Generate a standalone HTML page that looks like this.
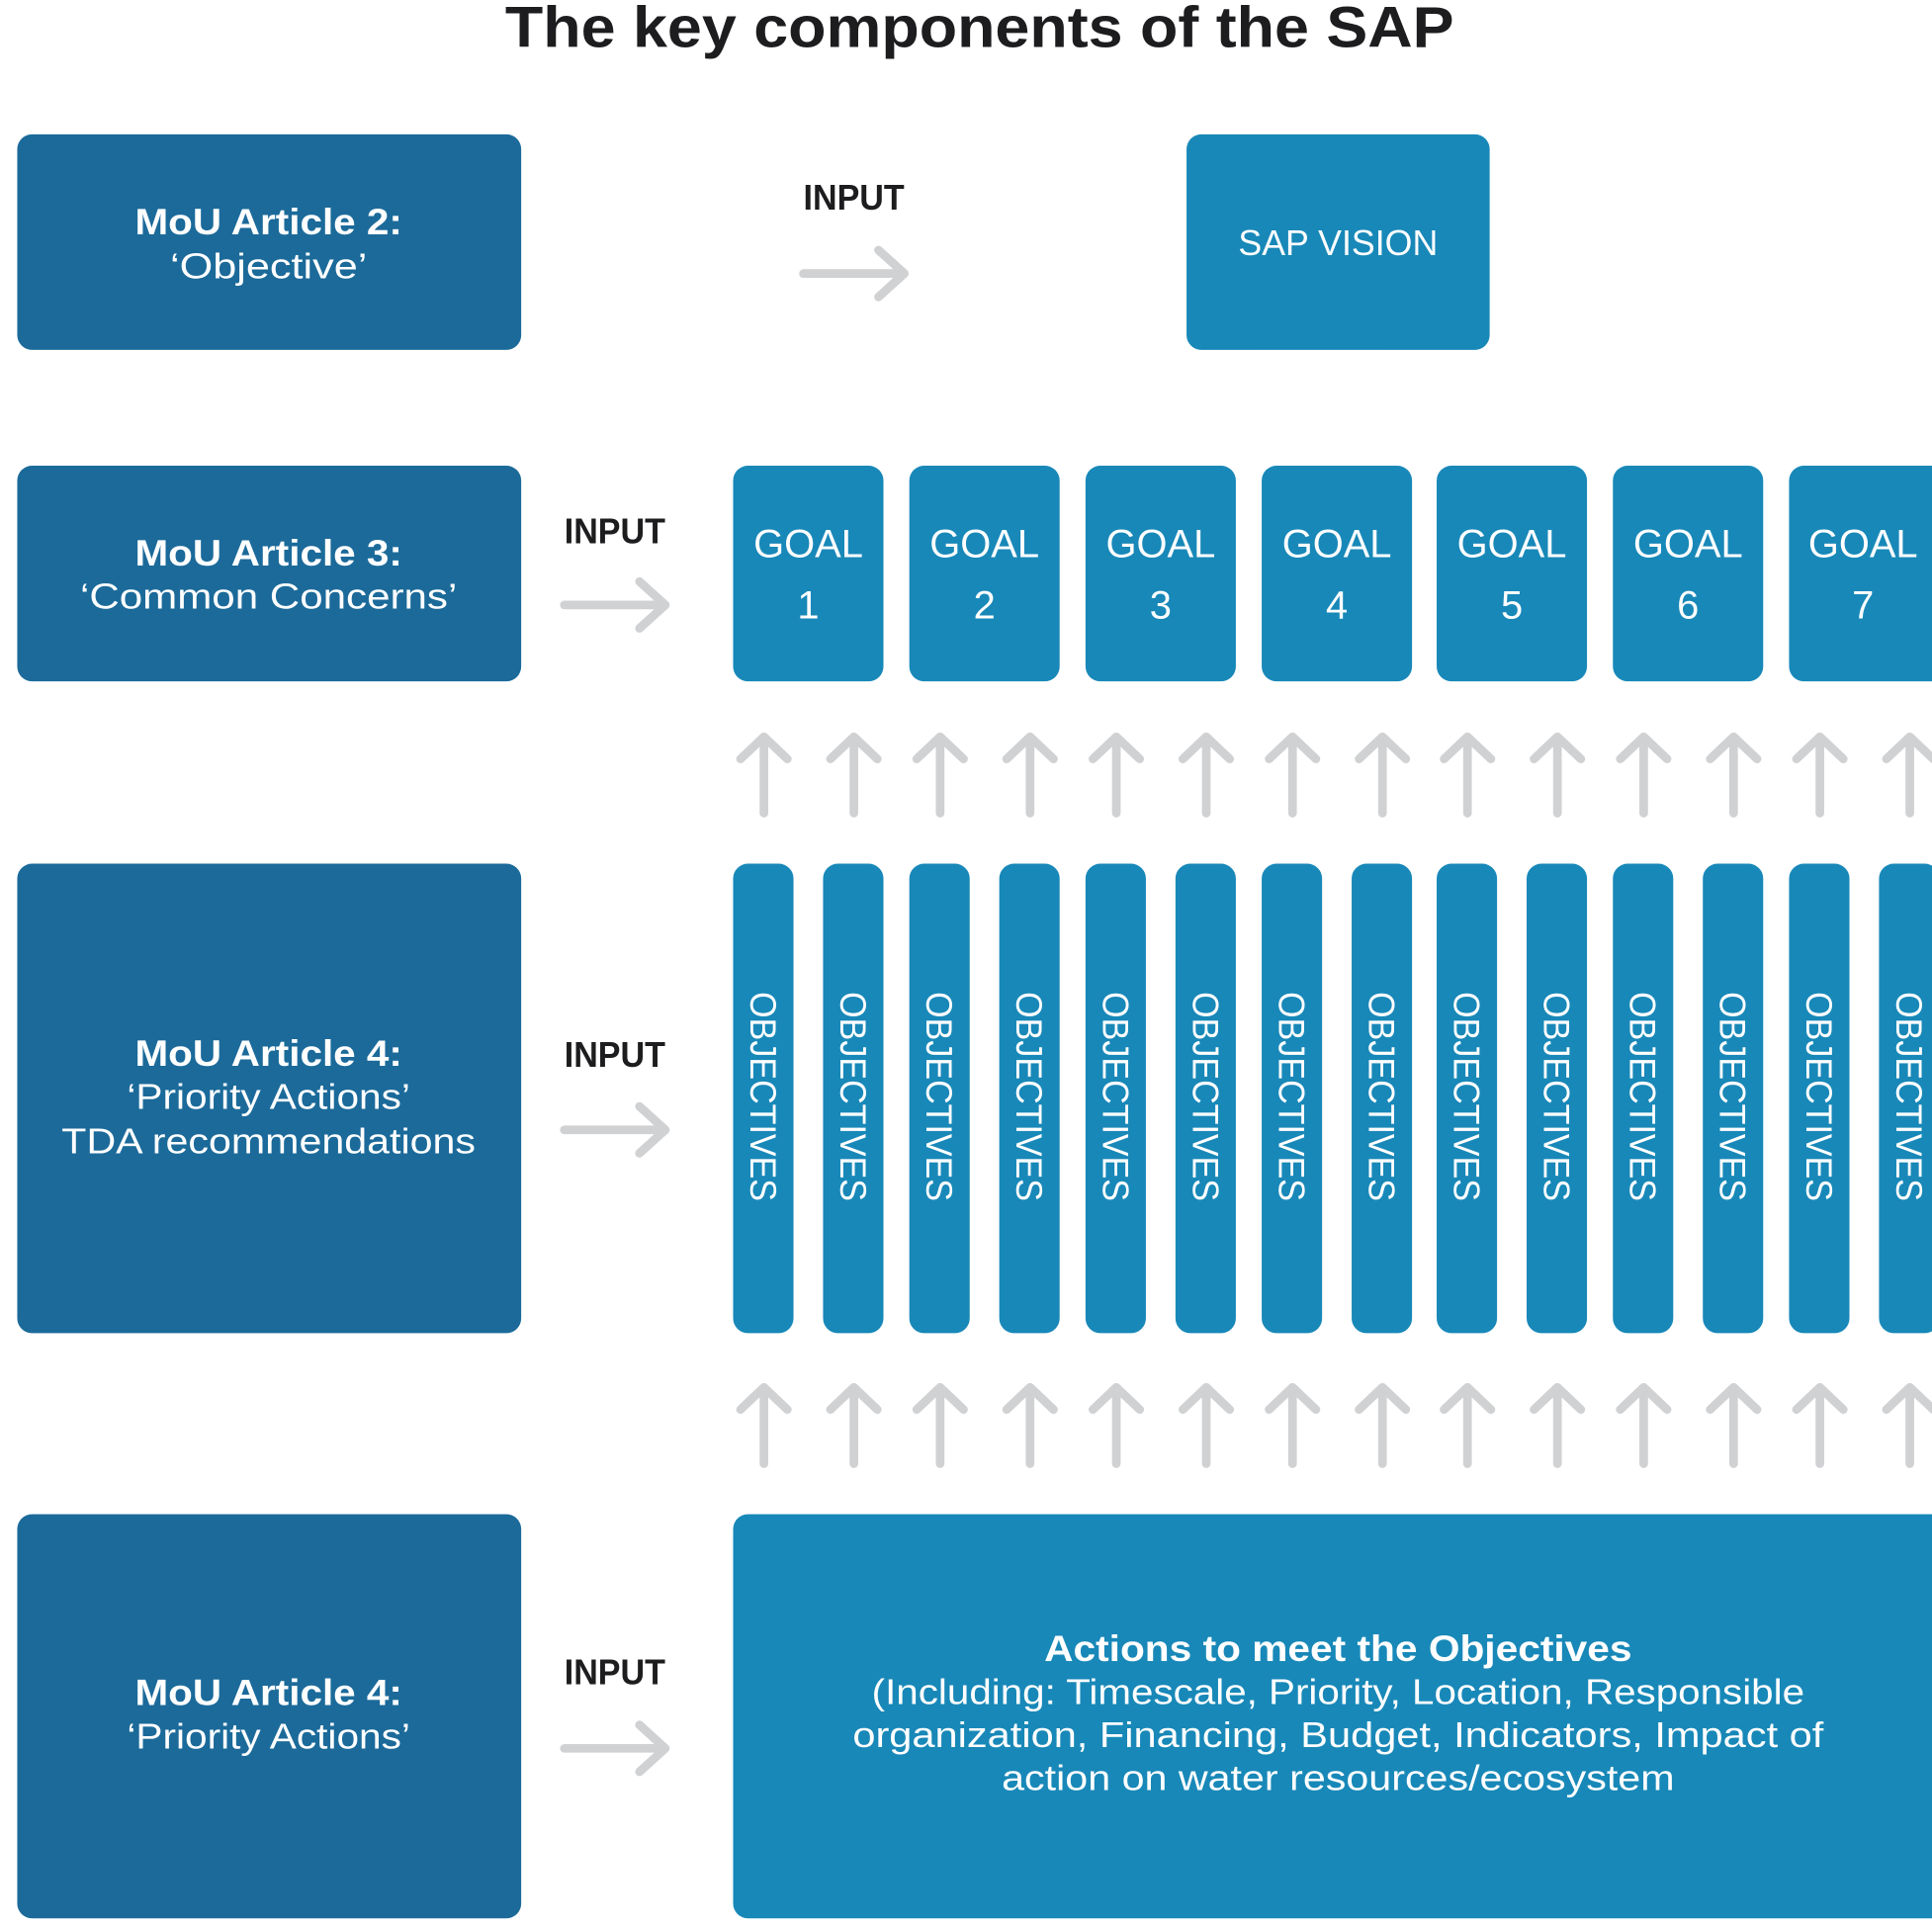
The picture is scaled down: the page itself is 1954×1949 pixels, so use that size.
<!DOCTYPE html>
<html><head><meta charset="utf-8"><style>
html,body{margin:0;padding:0;background:#fff;width:1954px;height:1949px;overflow:hidden}
svg{display:block}
text{font-family:"Liberation Sans",sans-serif}
.w{fill:#fff;font-size:29px;text-anchor:middle}
.wb{fill:#fff;font-size:30px;font-weight:bold;text-anchor:middle}
.in{fill:#1d1d1f;font-size:29px;font-weight:bold;text-anchor:middle}
.g{fill:#fff;font-size:32px;text-anchor:middle}
.ob{fill:#fff;font-size:30px;text-anchor:middle}
.ar{stroke:#d0d1d3;stroke-width:7;fill:none;stroke-linecap:round;stroke-linejoin:round}
.d{fill:#1b6a9a}.l{fill:#1888b8}
</style></head><body>
<svg width="1954" height="1949" viewBox="0 0 1568 1564" preserveAspectRatio="none">
<text x="795" y="38" text-anchor="middle" font-size="47" font-weight="bold" fill="#1d1d1f" textLength="770" lengthAdjust="spacingAndGlyphs">The key components of the SAP</text>

<rect class="d" x="14" y="109" width="409" height="175" rx="12"/>
<text class="wb" x="218" y="190" textLength="217" lengthAdjust="spacingAndGlyphs">MoU Article 2:</text>
<text class="w" x="218" y="226" textLength="160" lengthAdjust="spacingAndGlyphs">‘Objective’</text>
<rect class="d" x="14" y="378" width="409" height="175" rx="12"/>
<text class="wb" x="218" y="459" textLength="217" lengthAdjust="spacingAndGlyphs">MoU Article 3:</text>
<text class="w" x="218" y="494" textLength="306" lengthAdjust="spacingAndGlyphs">‘Common Concerns’</text>
<rect class="d" x="14" y="701" width="409" height="381" rx="12"/>
<text class="wb" x="218" y="865" textLength="217" lengthAdjust="spacingAndGlyphs">MoU Article 4:</text>
<text class="w" x="218" y="900" textLength="230" lengthAdjust="spacingAndGlyphs">‘Priority Actions’</text>
<text class="w" x="218" y="936" textLength="336" lengthAdjust="spacingAndGlyphs">TDA recommendations</text>
<rect class="d" x="14" y="1229" width="409" height="328" rx="12"/>
<text class="wb" x="218" y="1384" textLength="217" lengthAdjust="spacingAndGlyphs">MoU Article 4:</text>
<text class="w" x="218" y="1419" textLength="230" lengthAdjust="spacingAndGlyphs">‘Priority Actions’</text>

<text class="in" x="693" y="170" textLength="82" lengthAdjust="spacingAndGlyphs">INPUT</text>
<path class="ar" d="M652 222H734M713 203L734 222L713 241"/>
<text class="in" x="499" y="441" textLength="82" lengthAdjust="spacingAndGlyphs">INPUT</text>
<path class="ar" d="M458 491H540M519 472L540 491L519 510"/>
<text class="in" x="499" y="866" textLength="82" lengthAdjust="spacingAndGlyphs">INPUT</text>
<path class="ar" d="M458 917H540M519 898L540 917L519 936"/>
<text class="in" x="499" y="1367" textLength="82" lengthAdjust="spacingAndGlyphs">INPUT</text>
<path class="ar" d="M458 1419H540M519 1400L540 1419L519 1438"/>

<rect class="l" x="963" y="109" width="246" height="175" rx="12"/>
<text class="w" x="1086" y="207" textLength="162" lengthAdjust="spacingAndGlyphs">SAP VISION</text>

<g>
<rect class="l" x="595" y="378" width="122" height="175" rx="12"/><text class="g" x="656" y="452">GOAL</text><text class="g" x="656" y="502">1</text>
<rect class="l" x="738" y="378" width="122" height="175" rx="12"/><text class="g" x="799" y="452">GOAL</text><text class="g" x="799" y="502">2</text>
<rect class="l" x="881" y="378" width="122" height="175" rx="12"/><text class="g" x="942" y="452">GOAL</text><text class="g" x="942" y="502">3</text>
<rect class="l" x="1024" y="378" width="122" height="175" rx="12"/><text class="g" x="1085" y="452">GOAL</text><text class="g" x="1085" y="502">4</text>
<rect class="l" x="1166" y="378" width="122" height="175" rx="12"/><text class="g" x="1227" y="452">GOAL</text><text class="g" x="1227" y="502">5</text>
<rect class="l" x="1309" y="378" width="122" height="175" rx="12"/><text class="g" x="1370" y="452">GOAL</text><text class="g" x="1370" y="502">6</text>
<rect class="l" x="1452" y="378" width="140" height="175" rx="12"/><text class="g" x="1512" y="452">GOAL</text><text class="g" x="1512" y="502">7</text>
</g>

<g>
<rect class="l" x="595" y="701" width="49" height="381" rx="12"/><text class="ob" transform="translate(609,890) rotate(90)" textLength="170" lengthAdjust="spacingAndGlyphs">OBJECTIVES</text>
<rect class="l" x="668" y="701" width="49" height="381" rx="12"/><text class="ob" transform="translate(682,890) rotate(90)" textLength="170" lengthAdjust="spacingAndGlyphs">OBJECTIVES</text>
<rect class="l" x="738" y="701" width="49" height="381" rx="12"/><text class="ob" transform="translate(752,890) rotate(90)" textLength="170" lengthAdjust="spacingAndGlyphs">OBJECTIVES</text>
<rect class="l" x="811" y="701" width="49" height="381" rx="12"/><text class="ob" transform="translate(825,890) rotate(90)" textLength="170" lengthAdjust="spacingAndGlyphs">OBJECTIVES</text>
<rect class="l" x="881" y="701" width="49" height="381" rx="12"/><text class="ob" transform="translate(895,890) rotate(90)" textLength="170" lengthAdjust="spacingAndGlyphs">OBJECTIVES</text>
<rect class="l" x="954" y="701" width="49" height="381" rx="12"/><text class="ob" transform="translate(968,890) rotate(90)" textLength="170" lengthAdjust="spacingAndGlyphs">OBJECTIVES</text>
<rect class="l" x="1024" y="701" width="49" height="381" rx="12"/><text class="ob" transform="translate(1038,890) rotate(90)" textLength="170" lengthAdjust="spacingAndGlyphs">OBJECTIVES</text>
<rect class="l" x="1097" y="701" width="49" height="381" rx="12"/><text class="ob" transform="translate(1111,890) rotate(90)" textLength="170" lengthAdjust="spacingAndGlyphs">OBJECTIVES</text>
<rect class="l" x="1166" y="701" width="49" height="381" rx="12"/><text class="ob" transform="translate(1180,890) rotate(90)" textLength="170" lengthAdjust="spacingAndGlyphs">OBJECTIVES</text>
<rect class="l" x="1239" y="701" width="49" height="381" rx="12"/><text class="ob" transform="translate(1253,890) rotate(90)" textLength="170" lengthAdjust="spacingAndGlyphs">OBJECTIVES</text>
<rect class="l" x="1309" y="701" width="49" height="381" rx="12"/><text class="ob" transform="translate(1323,890) rotate(90)" textLength="170" lengthAdjust="spacingAndGlyphs">OBJECTIVES</text>
<rect class="l" x="1382" y="701" width="49" height="381" rx="12"/><text class="ob" transform="translate(1396,890) rotate(90)" textLength="170" lengthAdjust="spacingAndGlyphs">OBJECTIVES</text>
<rect class="l" x="1452" y="701" width="49" height="381" rx="12"/><text class="ob" transform="translate(1466,890) rotate(90)" textLength="170" lengthAdjust="spacingAndGlyphs">OBJECTIVES</text>
<rect class="l" x="1525" y="701" width="49" height="381" rx="12"/><text class="ob" transform="translate(1539,890) rotate(90)" textLength="170" lengthAdjust="spacingAndGlyphs">OBJECTIVES</text>
</g>

<path class="ar" d="
M620 660V598M601 616L620 598L639 616
M693 660V598M674 616L693 598L712 616
M763 660V598M744 616L763 598L782 616
M836 660V598M817 616L836 598L855 616
M906 660V598M887 616L906 598L925 616
M979 660V598M960 616L979 598L998 616
M1049 660V598M1030 616L1049 598L1068 616
M1122 660V598M1103 616L1122 598L1141 616
M1191 660V598M1172 616L1191 598L1210 616
M1264 660V598M1245 616L1264 598L1283 616
M1334 660V598M1315 616L1334 598L1353 616
M1407 660V598M1388 616L1407 598L1426 616
M1477 660V598M1458 616L1477 598L1496 616
M1550 660V598M1531 616L1550 598L1569 616
M620 1188V1126M601 1144L620 1126L639 1144
M693 1188V1126M674 1144L693 1126L712 1144
M763 1188V1126M744 1144L763 1126L782 1144
M836 1188V1126M817 1144L836 1126L855 1144
M906 1188V1126M887 1144L906 1126L925 1144
M979 1188V1126M960 1144L979 1126L998 1144
M1049 1188V1126M1030 1144L1049 1126L1068 1144
M1122 1188V1126M1103 1144L1122 1126L1141 1144
M1191 1188V1126M1172 1144L1191 1126L1210 1144
M1264 1188V1126M1245 1144L1264 1126L1283 1144
M1334 1188V1126M1315 1144L1334 1126L1353 1144
M1407 1188V1126M1388 1144L1407 1126L1426 1144
M1477 1188V1126M1458 1144L1477 1126L1496 1144
M1550 1188V1126M1531 1144L1550 1126L1569 1144"/>

<rect class="l" x="595" y="1229" width="1000" height="328" rx="12"/>
<text class="wb" x="1086" y="1348" textLength="477" lengthAdjust="spacingAndGlyphs">Actions to meet the Objectives</text>
<text class="w" x="1086" y="1383" textLength="757" lengthAdjust="spacingAndGlyphs">(Including: Timescale, Priority, Location, Responsible</text>
<text class="w" x="1086" y="1418" textLength="788" lengthAdjust="spacingAndGlyphs">organization, Financing, Budget, Indicators, Impact of</text>
<text class="w" x="1086" y="1453" textLength="546" lengthAdjust="spacingAndGlyphs">action on water resources/ecosystem</text>
</svg>
</body></html>
